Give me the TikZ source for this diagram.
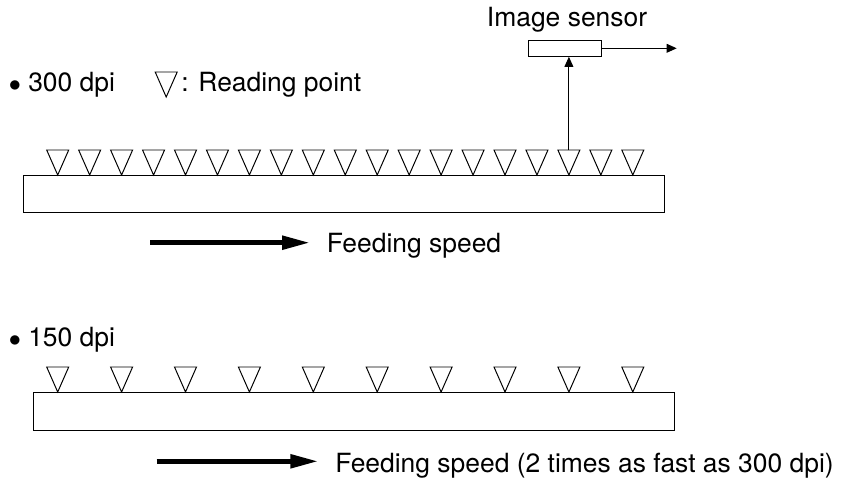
\documentclass[tikz,border=0pt]{standalone}
\usepackage{fontspec}
\setmainfont{TeX Gyre Heros}
\usepackage{tikz}
\usetikzlibrary{arrows.meta,positioning}
\newcommand{\px}{0.25mm}
\tikzset{
  stripbox/.style={draw,line width=0.7pt,anchor=north west,inner sep=0pt,fill=white},
  sensorbox/.style={draw,line width=0.7pt,inner sep=0pt,minimum width=72.7*\px,minimum height=16*\px},
  readmark/.style={draw,line width=0.7pt,line join=miter},
  sigarrow/.style={-{Triangle[length=2.5mm,width=2.2mm]},line width=0.7pt},
  feedarrow/.style={-{Triangle[length=7mm,width=3.3mm]},line width=1.2mm},
  txt/.style={anchor=base west,inner sep=0pt,font=\fontsize{18.8}{22}\selectfont}
}
\begin{document}
\begin{tikzpicture}[x=\px,y=-\px]
\useasboundingbox (0,0) rectangle (841,481);

% 300 dpi
\node[txt] (head300) at (8.5,91.7) {$\bullet$ 300 dpi};
\draw[readmark] (166.2,97) -- ++(-11,-25) -- ++(22,0) -- cycle;
\node[txt] (legend) at (181,91.7) {: Reading point};

\node[stripbox,minimum width=640.7*\px,minimum height=37*\px] (strip300) at (23.3,175) {};
\foreach \i in {0,...,18}{
  \coordinate (top\i) at ({57.7+31.95*\i},150);
  \draw[readmark] ({57.7+31.95*\i},175) -- ++(-11,-25) -- ++(22,0) -- cycle;
}

\node[sensorbox] (sensor) at (564.7,48.3) {};
\node[txt] (sensorlbl) at (486.7,26) {Image sensor};
\coordinate (out) at (676.7,48.3);
\draw[sigarrow] (top16) -- (top16 |- sensor.south);
\draw[sigarrow] (sensor.east) -- (out);

\coordinate (feed300a) at (150,242.7);
\coordinate (feed300b) at (310,242.7);
\draw[feedarrow] (feed300a) -- (feed300b);
\node[txt] (feedlbl300) at (326.7,252) {Feeding speed};

% 150 dpi
\node[txt] (head150) at (8.5,346.7) {$\bullet$ 150 dpi};
\node[stripbox,minimum width=640.7*\px,minimum height=38*\px] (strip150) at (33.3,392) {};
\foreach \i in {0,...,9}{
  \draw[readmark] ({57.7+63.9*\i},392) -- ++(-11,-25) -- ++(22,0) -- cycle;
}

\coordinate (feed150a) at (156.7,461.3);
\coordinate (feed150b) at (318.3,461.3);
\draw[feedarrow] (feed150a) -- (feed150b);
\node[txt] (feedlbl150) at (335,472) {Feeding speed (2 times as fast as 300 dpi)};
\end{tikzpicture}
\end{document}
